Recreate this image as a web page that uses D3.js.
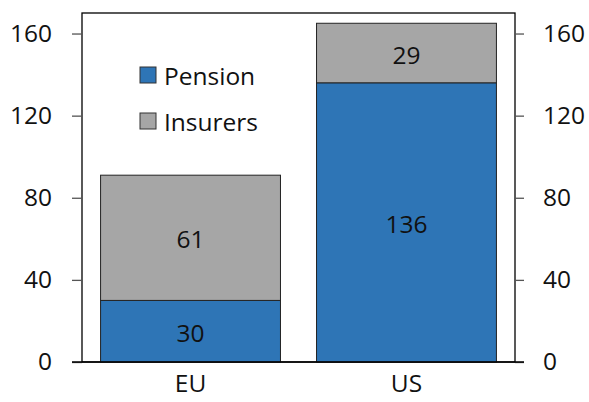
<!DOCTYPE html>
<html><head><meta charset="utf-8">
<script src="https://cdn.jsdelivr.net/npm/d3@7"></script>
<style>body{margin:0;background:#fff}svg{display:block}text{font-family:"Open Sans",sans-serif}</style>
</head><body><svg id="c" width="589" height="402"></svg>
<script>
const categories = ["EU", "US"];
const pension = [30, 136];
const insurers = [61, 29];
const seriesNames = ["Pension", "Insurers"];
const yTicks = [0, 40, 80, 120, 160];

const colors = {Pension: "#2e75b6", Insurers: "#a6a6a6"};
const svg = d3.select("#c");
const L = 82, R = 515, T = 13, B = 362;
const fs = 24.5;

const x = d3.scaleBand().domain(categories).range([L, R]).paddingInner(0.167).paddingOuter(0.086);
const y = d3.scaleLinear().domain([0, 170]).range([B, T]);

const data = categories.map((c, i) => ({cat: c, Pension: pension[i], Insurers: insurers[i]}));
const stack = d3.stack().keys(seriesNames)(data);

// frame
svg.append("rect").attr("x", L).attr("y", T).attr("width", R - L).attr("height", B - T)
  .attr("fill", "none").attr("stroke", "#000").attr("stroke-width", 1.3);

stack.forEach(s => {
  svg.append("g").selectAll("rect").data(s).join("rect")
    .attr("x", d => x(d.data.cat)).attr("width", x.bandwidth())
    .attr("y", d => y(d[1])).attr("height", d => y(d[0]) - y(d[1]))
    .attr("fill", colors[s.key]).attr("stroke", "#222").attr("stroke-width", 1);
  svg.append("g").selectAll("text").data(s).join("text")
    .attr("x", d => x(d.data.cat) + x.bandwidth() / 2)
    .attr("y", d => (y(d[0]) + y(d[1])) / 2 + 2)
    .attr("dy", "0.35em").attr("text-anchor", "middle").attr("font-size", fs).attr("fill", "#111")
    .text(d => d[1] - d[0]);
});

// axes
const yl = d3.axisLeft(y).tickValues(yTicks).tickSize(10).tickPadding(20);
const yr = d3.axisRight(y).tickValues(yTicks).tickSize(9).tickPadding(19);
const gl = svg.append("g").attr("transform", `translate(${L},0)`).call(yl);
const gr = svg.append("g").attr("transform", `translate(${R},0)`).call(yr);
[gl, gr].forEach(g => {
  g.select(".domain").remove();
  g.selectAll(".tick line").attr("stroke", "#555").attr("stroke-width", 1.3);
  g.selectAll(".tick text").attr("font-size", fs).attr("fill", "#111").attr("font-family", '"Open Sans",sans-serif');
});
// bottom axis line
svg.append("line").attr("x1", L - 10).attr("x2", R + 9).attr("y1", B).attr("y2", B)
  .attr("stroke", "#000").attr("stroke-width", 1.3);
const xa = d3.axisBottom(x).tickSize(0).tickPadding(13);
const gx = svg.append("g").attr("transform", `translate(0,${B})`).call(xa);
gx.select(".domain").remove();
gx.selectAll(".tick text").attr("font-size", fs).attr("fill", "#111").attr("font-family", '"Open Sans",sans-serif');

// legend
const lg = svg.append("g");
seriesNames.forEach((n, i) => {
  const yy = 67 + i * 46;
  lg.append("rect").attr("x", 140).attr("y", yy).attr("width", 16).attr("height", 16)
    .attr("fill", colors[n]).attr("stroke", "#333").attr("stroke-width", 1);
  lg.append("text").attr("x", 164).attr("y", yy + 9).attr("dy", "0.35em")
    .attr("font-size", fs).attr("fill", "#111").text(n);
});
</script></body></html>
